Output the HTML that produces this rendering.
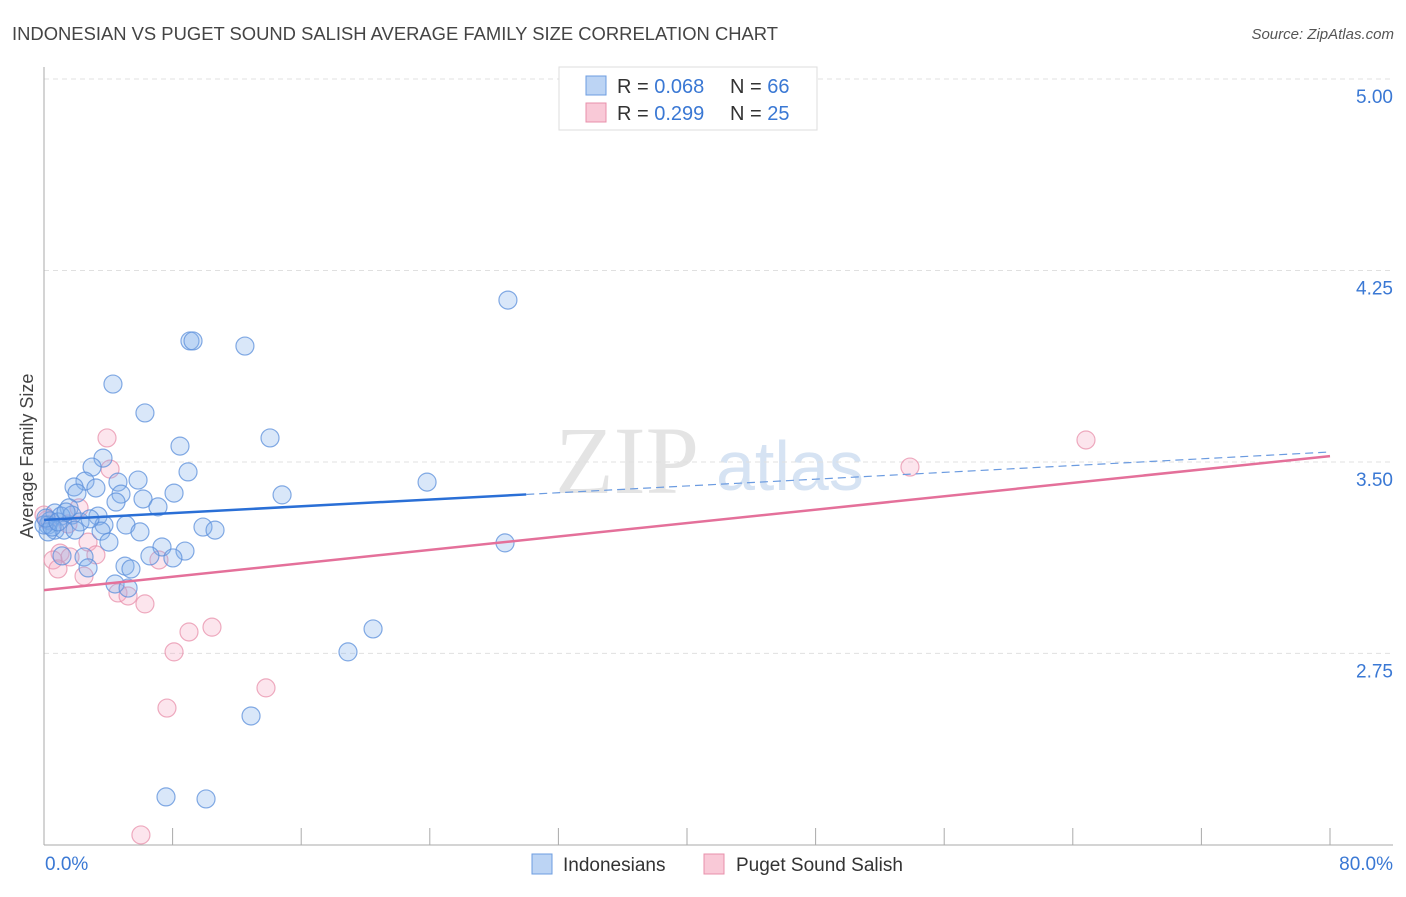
<!DOCTYPE html>
<html><head><meta charset="utf-8"><style>
body{margin:0;background:#fff;font-family:"Liberation Sans",sans-serif}
</style></head><body>
<svg id="chart" width="1406" height="892" xmlns="http://www.w3.org/2000/svg" font-family="Liberation Sans, sans-serif">
<text x="12" y="40" font-size="18" fill="#444" textLength="766" lengthAdjust="spacingAndGlyphs">INDONESIAN VS PUGET SOUND SALISH AVERAGE FAMILY SIZE CORRELATION CHART</text>
<text x="1394" y="39" font-size="15" fill="#555" font-style="italic" text-anchor="end">Source: ZipAtlas.com</text>
<text x="555" y="493" font-size="96" fill="#e4e4e4" font-family="Liberation Serif, serif">ZIP</text>
<text x="716" y="490" font-size="70" fill="#d6e3f3">atlas</text>
<text transform="translate(33,456) rotate(-90)" font-size="18" fill="#444" text-anchor="middle">Average Family Size</text>
<g id="grid"></g><g id="axes"></g><g id="marks"></g>
<g>
<rect x="559" y="67" width="258" height="63" fill="#fff" stroke="#ddd"/>
<rect x="586" y="76" width="20" height="19" fill="#bcd4f4" stroke="#6d9de0"/>
<rect x="586" y="103" width="20" height="19" fill="#f9c9d7" stroke="#e890ab"/>
<text x="617" y="93" font-size="20" fill="#333">R = <tspan fill="#3a78d4">0.068</tspan></text>
<text x="730" y="93" font-size="20" fill="#333">N = <tspan fill="#3a78d4">66</tspan></text>
<text x="617" y="120" font-size="20" fill="#333">R = <tspan fill="#3a78d4"> 0.299</tspan></text>
<text x="730" y="120" font-size="20" fill="#333">N = <tspan fill="#3a78d4">25</tspan></text>
</g>
<g>
<rect x="532" y="854" width="20" height="20" fill="#bcd4f4" stroke="#6d9de0"/>
<text x="563" y="871" font-size="19" fill="#333">Indonesians</text>
<rect x="704" y="854" width="20" height="20" fill="#f9c9d7" stroke="#e890ab"/>
<text x="736" y="871" font-size="19" fill="#333">Puget Sound Salish</text>
</g>
</svg>
<script>
const yTicks=[5.00,4.25,3.50,2.75];
const yTickLabels=["5.00","4.25","3.50","2.75"];
const xLabels=["0.0%","80.0%"];
const blueX=[28.86,9.08,9.27,12.5,4.29,6.28,8.46,14.06,3.67,2.99,8.96,5.85,2.55,4.6,1.87,3.23,2.05,4.79,8.09,14.81,6.16,4.48,7.09,1.56,0.68,3.36,1.06,1.74,0.37,2.24,3.73,5.1,0.25,9.89,10.64,0.68,5.97,1.24,3.55,4.04,0.25,7.34,8.77,6.59,1.12,8.02,2.49,28.68,23.83,5.04,5.41,2.74,4.42,5.23,20.47,18.91,12.88,7.59,10.08,0,0.12,0.5,0.87,2.86,1.37,1.93];
const blueY=[4.134,3.974,3.974,3.954,3.805,3.692,3.562,3.594,3.515,3.48,3.461,3.429,3.425,3.421,3.402,3.398,3.378,3.374,3.378,3.371,3.355,3.343,3.324,3.32,3.3,3.288,3.288,3.292,3.269,3.265,3.253,3.253,3.253,3.245,3.233,3.233,3.226,3.233,3.229,3.186,3.226,3.167,3.151,3.132,3.132,3.124,3.128,3.183,3.421,3.092,3.081,3.085,3.022,3.006,2.846,2.756,2.505,2.188,2.18,3.253,3.28,3.245,3.265,3.277,3.304,3.233];
const pinkX=[3.92,4.11,2.18,0.19,1.49,2.74,1.0,1.62,3.23,0.56,7.15,0.87,2.49,4.6,5.23,6.28,9.02,10.45,8.09,13.81,7.65,6.03,53.87,64.82,0];
const pinkY=[3.594,3.472,3.32,3.273,3.257,3.186,3.143,3.128,3.136,3.116,3.116,3.081,3.053,2.987,2.975,2.944,2.834,2.853,2.756,2.615,2.536,2.039,3.48,3.586,3.292];
const blueTrend=[3.273,3.539];
const pinkTrend=[2.998,3.523];
const NS="http://www.w3.org/2000/svg";
const X0=44,X1=1330,Y5=79,PXU=255.3;
function sx(v){return X0+(X1-X0)*v/80;}
function sy(v){return Y5+(5-v)*PXU;}
function mk(tag,attrs,parent){const e=document.createElementNS(NS,tag);for(const k in attrs)e.setAttribute(k,attrs[k]);parent.appendChild(e);return e;}
const grid=document.getElementById('grid'),axes=document.getElementById('axes'),marks=document.getElementById('marks');
yTicks.forEach((t,i)=>{
 const l=mk('line',{x1:X0,x2:1393,y1:sy(t),y2:sy(t),stroke:'#e0e0e0','stroke-dasharray':'5,4'},grid);
 
 
 const tx=mk('text',{x:1393,y:sy(t)+24,'font-size':19,fill:'#3a78d4','text-anchor':'end'},axes);
 tx.textContent=yTickLabels[i];
 
 
});
let a=mk('line',{x1:X0,x2:X0,y1:67,y2:845,stroke:'#aaa'},axes);


a=mk('line',{x1:X0,x2:1393,y1:845,y2:845,stroke:'#aaa'},axes);


for(let i=0;i<=10;i++){
 const t=mk('line',{x1:sx(i*8),x2:sx(i*8),y1:828,y2:845,stroke:'#aaa'},axes);
 
 
}
let xl=mk('text',{x:45,y:870,'font-size':19,fill:'#3a78d4'},axes);xl.textContent=xLabels[0];


xl=mk('text',{x:1393,y:870,'font-size':19,fill:'#3a78d4','text-anchor':'end'},axes);xl.textContent=xLabels[1];


function pts(xs,ys,fill,stroke,name){xs.forEach((x,i)=>{
 const c=mk('circle',{cx:sx(x),cy:sy(ys[i]),r:9,fill:fill,stroke:stroke,'stroke-width':1.2,'stroke-opacity':0.75},marks);
 
 
});}
pts(pinkX,pinkY,'rgba(244,170,194,0.3)','#e890ab','puget-sound-salish-point');
pts(blueX,blueY,'rgba(130,175,235,0.3)','#5b8fdb','indonesian-point');
function tv(tr,x){return tr[0]+(tr[1]-tr[0])*x/80;}
let ln=mk('line',{x1:sx(0),y1:sy(tv(blueTrend,0)),x2:sx(30),y2:sy(tv(blueTrend,30)),stroke:'#2a6fd6','stroke-width':2.5},marks);


ln=mk('line',{x1:sx(30),y1:sy(tv(blueTrend,30)),x2:sx(80),y2:sy(tv(blueTrend,80)),stroke:'#6b9be0','stroke-width':1.2,'stroke-dasharray':'8,5'},marks);


ln=mk('line',{x1:sx(0),y1:sy(tv(pinkTrend,0)),x2:sx(80),y2:sy(tv(pinkTrend,80)),stroke:'#e4709a','stroke-width':2.5},marks);


</script>
</body></html>
